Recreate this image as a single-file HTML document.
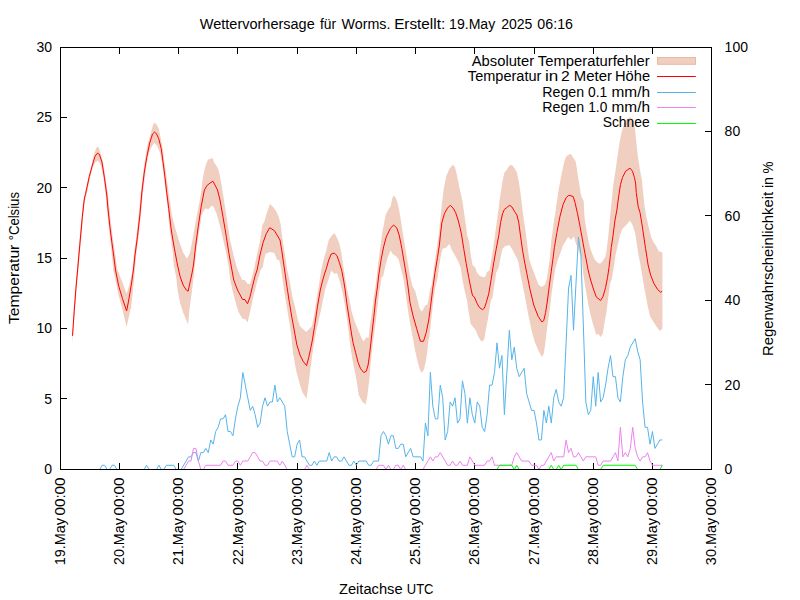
<!DOCTYPE html>
<html><head><meta charset="utf-8"><title>Wettervorhersage Worms</title>
<style>html,body{margin:0;padding:0;background:#fff;overflow:hidden}svg{display:block}text{font-family:"Liberation Sans",sans-serif;font-size:14px;fill:#000}</style></head><body>
<svg width="800" height="600" viewBox="0 0 800 600">
<rect width="800" height="600" fill="#fff"/>
<g stroke="#000" stroke-width="1" fill="none" stroke-linecap="butt">
<path d="M60.5,47.5h6.5"/>
<path d="M60.5,117.5h6.5"/>
<path d="M60.5,187.5h6.5"/>
<path d="M60.5,258.5h6.5"/>
<path d="M60.5,328.5h6.5"/>
<path d="M60.5,398.5h6.5"/>
<path d="M60.5,469.5h6.5"/>
<path d="M711.5,47.5h-6.5"/>
<path d="M711.5,131.5h-6.5"/>
<path d="M711.5,215.5h-6.5"/>
<path d="M711.5,300.5h-6.5"/>
<path d="M711.5,384.5h-6.5"/>
<path d="M711.5,469.5h-6.5"/>
<path d="M60.5,469.5v-6.5"/>
<path d="M60.5,47.5v6.5"/>
<path d="M119.5,469.5v-6.5"/>
<path d="M119.5,47.5v6.5"/>
<path d="M178.5,469.5v-6.5"/>
<path d="M178.5,47.5v6.5"/>
<path d="M237.5,469.5v-6.5"/>
<path d="M237.5,47.5v6.5"/>
<path d="M297.5,469.5v-6.5"/>
<path d="M297.5,47.5v6.5"/>
<path d="M356.5,469.5v-6.5"/>
<path d="M356.5,47.5v6.5"/>
<path d="M415.5,469.5v-6.5"/>
<path d="M415.5,47.5v6.5"/>
<path d="M474.5,469.5v-6.5"/>
<path d="M474.5,47.5v6.5"/>
<path d="M534.5,469.5v-6.5"/>
<path d="M534.5,47.5v6.5"/>
<path d="M593.5,469.5v-6.5"/>
<path d="M593.5,47.5v6.5"/>
<path d="M652.5,469.5v-6.5"/>
<path d="M652.5,47.5v6.5"/>
<path d="M711.5,469.5v-6.5"/>
<path d="M711.5,47.5v6.5"/>
</g>
<clipPath id="c"><rect x="60.5" y="47.5" width="651.0" height="422.0"/></clipPath>
<g clip-path="url(#c)" fill="none" stroke-linejoin="miter" stroke-miterlimit="3.8" stroke-linecap="butt">
<path d="M72.50,333.00 L73.60,311.00 L75.30,288.75 L76.90,270.00 L78.10,255.00 L79.90,235.00 L81.50,217.50 L83.00,202.50 L84.80,195.00 L88.50,176.00 L91.00,167.00 L94.00,154.50 L96.00,148.50 L97.50,146.60 L99.00,148.00 L100.80,154.40 L103.00,162.00 L105.50,177.50 L108.00,195.00 L109.50,210.00 L111.50,227.50 L113.50,242.50 L115.50,256.25 L117.50,270.00 L122.50,282.50 L126.60,293.75 L130.00,282.50 L132.50,270.00 L133.80,255.00 L136.30,236.00 L138.80,214.00 L141.10,190.00 L144.20,165.00 L147.00,147.00 L151.25,131.25 L153.10,124.40 L154.40,122.75 L156.25,124.00 L158.75,128.75 L160.60,137.50 L162.50,147.50 L164.40,161.25 L166.25,175.00 L168.10,188.75 L171.90,215.00 L175.00,227.50 L178.75,240.00 L183.10,252.50 L186.90,258.75 L190.00,252.50 L192.50,240.00 L194.60,227.50 L196.90,215.00 L199.40,202.50 L201.40,190.00 L202.50,180.00 L204.40,170.00 L206.25,163.75 L208.10,159.40 L210.00,159.00 L212.90,158.10 L213.75,161.90 L215.60,164.40 L218.10,168.75 L220.00,176.25 L221.25,183.75 L222.40,190.00 L226.25,215.00 L230.00,239.50 L233.75,256.00 L237.30,269.00 L241.90,279.40 L245.00,280.25 L247.50,283.75 L250.00,284.00 L251.90,277.50 L253.75,270.00 L256.90,255.00 L260.00,241.25 L262.25,225.60 L264.40,221.25 L266.90,212.50 L270.00,204.00 L273.10,206.90 L276.25,211.25 L278.75,216.90 L280.60,223.75 L281.90,235.00 L283.75,247.50 L285.60,258.75 L287.25,270.00 L290.00,282.50 L292.50,297.50 L295.00,306.25 L297.50,318.75 L300.00,326.25 L306.25,331.90 L311.90,326.25 L313.75,317.50 L316.25,301.25 L318.50,287.50 L321.00,271.50 L323.50,260.00 L326.25,250.50 L328.75,240.00 L331.90,235.60 L334.40,232.90 L336.90,237.50 L339.40,243.75 L341.25,252.50 L343.10,265.00 L345.00,276.50 L346.90,288.50 L349.40,300.00 L351.90,312.50 L355.00,322.50 L358.75,331.25 L361.25,337.50 L363.50,341.40 L366.25,337.50 L368.50,338.10 L370.00,325.00 L371.90,312.50 L373.75,297.50 L375.80,284.00 L377.50,269.50 L380.00,248.75 L382.50,231.25 L383.75,225.00 L385.60,215.00 L388.10,210.00 L390.60,206.25 L392.50,197.50 L393.75,195.60 L395.60,197.50 L397.50,202.50 L399.40,211.25 L401.25,222.50 L403.10,235.00 L406.25,253.75 L408.75,268.75 L410.00,275.50 L412.50,286.25 L415.20,291.00 L416.90,297.50 L419.40,307.50 L421.25,311.25 L423.10,310.00 L425.00,305.60 L427.50,304.40 L428.75,297.50 L430.00,290.00 L431.90,284.00 L435.00,260.00 L438.75,235.00 L440.00,222.50 L441.90,203.75 L443.75,188.75 L446.25,176.25 L449.40,168.75 L452.75,164.75 L455.00,166.90 L456.90,175.00 L459.40,187.50 L462.50,201.25 L464.40,215.00 L466.25,227.50 L467.10,235.00 L469.40,242.50 L470.60,253.75 L472.50,265.00 L475.00,266.90 L476.90,272.50 L479.40,275.60 L482.50,276.90 L485.00,276.90 L486.90,271.90 L489.40,270.60 L491.25,260.00 L493.10,248.75 L495.00,235.00 L497.50,216.25 L500.00,197.50 L502.50,181.25 L504.40,172.50 L506.90,169.40 L509.40,165.60 L511.90,165.00 L514.40,168.10 L516.90,172.50 L518.75,181.25 L520.60,193.75 L522.50,210.00 L524.40,223.75 L526.00,235.00 L527.70,248.00 L529.40,260.00 L532.50,268.75 L535.60,276.90 L538.75,285.00 L541.90,286.90 L545.00,284.40 L546.90,278.75 L548.10,270.00 L549.60,260.00 L551.25,241.25 L553.75,222.50 L556.25,206.25 L558.10,192.50 L559.50,185.00 L561.90,172.50 L564.40,161.25 L566.25,156.25 L570.60,153.75 L573.10,157.50 L575.60,161.25 L576.90,168.75 L578.10,177.50 L579.40,185.00 L581.25,196.25 L583.75,201.25 L584.40,216.25 L586.25,228.75 L588.10,238.75 L590.00,247.50 L592.50,254.40 L595.00,260.00 L597.50,262.50 L600.00,263.75 L602.50,261.25 L605.30,257.00 L606.50,251.00 L608.30,236.00 L610.00,217.50 L611.90,198.75 L613.10,186.25 L613.75,182.00 L615.60,170.00 L617.50,156.25 L619.40,143.75 L621.25,133.75 L623.75,125.00 L626.25,120.00 L630.00,116.90 L633.10,120.00 L635.00,128.75 L636.25,141.25 L637.50,153.75 L639.40,166.25 L640.00,170.00 L641.90,180.00 L643.10,192.50 L644.40,205.00 L646.25,216.25 L648.75,227.50 L651.25,237.50 L653.75,242.50 L656.25,246.25 L658.75,251.25 L661.90,252.25 L662.40,253.00 L662.40,328.80 L659.80,331.00 L656.25,326.25 L650.00,316.25 L647.50,305.00 L644.40,288.75 L641.90,273.75 L640.00,262.50 L638.50,255.00 L637.50,248.75 L636.25,240.00 L635.00,232.50 L632.50,225.00 L630.00,220.60 L626.25,225.00 L622.50,228.75 L620.00,235.00 L617.50,246.25 L615.60,255.00 L613.75,267.50 L611.90,278.75 L610.00,283.75 L608.10,298.75 L606.25,313.75 L605.00,320.00 L603.75,327.50 L602.50,334.40 L600.60,336.90 L598.10,333.75 L596.25,335.00 L595.00,330.50 L592.50,322.50 L590.00,312.50 L587.50,300.00 L585.00,285.00 L583.10,272.50 L581.90,260.00 L579.40,252.50 L577.50,247.50 L575.60,242.50 L573.75,236.25 L571.25,240.00 L568.10,236.90 L565.60,241.25 L563.10,245.00 L560.60,252.50 L557.70,260.00 L555.60,267.50 L553.75,278.75 L551.90,291.25 L550.00,307.50 L548.10,321.00 L546.90,330.00 L545.60,341.25 L543.75,353.75 L541.90,356.90 L538.75,351.25 L535.00,342.50 L531.90,332.00 L528.50,316.00 L525.60,300.00 L523.10,287.50 L520.60,275.00 L518.75,263.75 L516.90,258.10 L514.40,253.75 L511.90,248.75 L509.40,245.00 L505.00,246.25 L502.50,248.75 L500.60,257.50 L498.75,267.50 L496.25,272.50 L494.40,285.00 L492.50,297.50 L491.00,300.00 L489.40,310.00 L487.50,321.25 L485.60,331.25 L484.40,338.75 L482.50,341.50 L480.60,340.60 L478.10,336.25 L475.60,330.00 L473.10,326.90 L470.60,323.75 L468.75,312.50 L466.90,300.00 L465.00,292.50 L462.50,280.00 L460.60,267.50 L458.10,261.25 L455.00,255.60 L451.90,250.00 L449.40,244.00 L445.60,248.10 L442.50,248.75 L440.60,257.50 L438.75,268.75 L437.50,278.75 L435.20,287.50 L433.30,301.00 L431.40,318.00 L429.40,337.50 L428.50,340.00 L427.25,352.50 L425.60,362.50 L423.75,370.00 L421.90,372.75 L420.00,370.00 L417.50,361.25 L415.00,350.00 L413.10,339.50 L410.00,323.00 L407.50,306.90 L405.20,291.00 L403.50,279.00 L401.25,270.00 L398.75,260.00 L396.25,256.25 L393.10,254.40 L390.60,250.60 L388.10,256.25 L385.60,265.00 L383.10,276.00 L381.50,277.50 L379.40,291.25 L377.50,306.25 L375.60,322.50 L373.75,337.00 L372.20,349.00 L370.60,363.75 L369.40,378.75 L367.50,395.00 L365.60,404.40 L361.90,401.25 L358.75,395.00 L356.90,382.50 L355.00,372.50 L352.50,360.00 L350.30,346.00 L349.00,335.00 L347.50,322.50 L345.00,306.25 L342.50,292.50 L341.50,288.50 L339.40,280.00 L336.90,273.10 L334.40,273.75 L331.25,270.60 L328.75,278.75 L326.60,285.00 L325.00,290.00 L323.00,300.00 L321.00,310.00 L318.70,320.00 L316.40,330.00 L315.20,337.00 L313.75,345.00 L311.90,357.50 L310.00,372.50 L308.10,387.50 L306.50,398.75 L302.50,392.50 L300.00,385.00 L296.25,371.25 L293.10,353.75 L291.25,335.00 L290.00,326.25 L286.90,307.50 L283.75,288.75 L281.25,270.00 L279.40,260.60 L276.90,259.40 L274.40,253.10 L270.00,251.90 L265.60,253.75 L264.00,260.00 L262.90,267.00 L260.60,270.00 L256.90,282.50 L253.75,295.00 L251.25,306.25 L249.40,315.00 L247.50,322.50 L245.60,319.40 L242.50,318.75 L238.50,312.00 L235.60,302.50 L232.50,290.50 L230.00,278.50 L228.40,265.00 L226.25,253.75 L223.75,242.50 L221.25,231.25 L218.75,221.25 L216.25,212.50 L213.75,206.90 L211.90,205.60 L208.10,209.40 L206.25,208.50 L205.00,208.75 L201.50,215.00 L199.75,227.50 L196.90,246.25 L194.80,265.00 L193.75,276.25 L192.50,286.25 L191.25,296.25 L190.00,305.00 L188.90,315.00 L188.20,324.50 L183.10,312.50 L180.00,302.50 L177.50,290.00 L176.25,277.50 L173.75,265.00 L172.75,252.50 L169.40,227.50 L167.80,208.75 L165.60,190.00 L164.00,177.50 L162.25,165.00 L160.00,152.50 L157.00,146.00 L154.40,142.75 L151.90,146.25 L149.00,152.50 L146.50,165.00 L143.00,192.00 L141.00,213.75 L138.60,236.25 L136.20,255.00 L135.00,270.00 L133.75,282.50 L132.50,295.00 L131.00,307.50 L126.60,327.00 L121.90,307.50 L118.50,295.00 L113.30,270.00 L112.00,256.25 L110.50,242.50 L108.80,227.50 L107.00,210.00 L105.60,195.00 L103.40,177.50 L101.00,166.00 L99.40,162.00 L97.50,161.00 L95.50,162.00 L93.00,167.00 L90.40,176.00 L86.60,195.00 L84.60,202.50 L83.00,217.50 L81.50,235.00 L79.70,255.00 L78.40,270.00 L76.60,288.75 L74.90,311.25 L73.60,327.00 L72.50,344.40Z" fill="#f0cfc0" stroke="none"/>
<path d="M72.50,335.80 L74.20,311.25 L75.90,288.75 L77.60,270.00 L78.90,255.00 L80.70,235.00 L82.25,217.50 L84.30,199.00 L85.60,193.50 L89.40,176.25 L91.90,166.90 L95.00,156.25 L97.50,153.10 L99.40,154.40 L101.90,161.90 L104.40,177.50 L106.80,195.00 L108.10,210.00 L110.00,227.50 L111.90,242.50 L113.75,256.25 L115.50,270.00 L118.75,286.25 L122.50,298.75 L126.60,311.00 L128.75,300.00 L131.25,285.00 L133.40,270.00 L135.00,255.00 L137.50,236.25 L140.00,213.75 L141.90,192.00 L144.20,173.00 L146.70,157.50 L149.70,143.00 L152.50,134.00 L154.50,132.10 L156.50,133.75 L158.75,138.75 L161.25,148.75 L163.10,162.50 L165.00,177.50 L166.40,190.00 L168.75,208.75 L171.25,230.00 L174.40,248.75 L177.50,265.00 L180.00,276.25 L183.10,285.00 L186.25,290.00 L188.10,291.25 L191.90,273.75 L193.50,265.00 L195.60,246.25 L198.10,227.50 L201.25,206.25 L204.40,190.00 L206.90,185.60 L210.00,183.10 L212.90,181.25 L215.00,185.00 L217.50,190.00 L220.00,200.00 L223.10,217.50 L226.25,236.25 L228.75,252.50 L231.00,265.00 L233.75,280.00 L237.50,290.00 L242.50,299.40 L245.00,299.60 L247.50,303.75 L250.00,296.90 L252.50,286.25 L255.00,276.25 L257.10,270.00 L260.00,255.00 L263.10,242.50 L266.25,233.75 L269.75,227.75 L274.40,230.60 L280.00,240.00 L281.90,251.25 L283.10,260.00 L284.60,270.00 L286.90,286.25 L289.40,302.50 L291.90,317.50 L296.90,345.00 L300.00,355.00 L303.10,361.25 L306.60,365.60 L308.75,357.50 L310.60,348.75 L312.20,341.00 L314.40,327.50 L317.50,306.25 L320.30,290.00 L322.50,281.00 L324.20,275.00 L326.25,268.75 L328.75,260.00 L331.25,254.00 L334.40,253.10 L336.90,255.60 L339.40,262.50 L341.90,271.25 L343.75,281.25 L345.00,289.00 L346.90,303.75 L349.40,320.00 L351.70,335.00 L353.30,343.75 L355.60,352.50 L358.10,362.50 L360.60,368.75 L363.75,372.50 L366.25,371.25 L368.10,365.00 L369.75,353.00 L371.40,338.00 L373.75,317.50 L375.60,300.00 L377.30,288.00 L378.75,275.00 L381.25,258.75 L383.75,246.25 L386.25,236.90 L390.30,228.50 L393.60,225.00 L396.90,228.10 L399.40,236.00 L401.90,248.75 L406.90,278.75 L408.30,289.00 L410.00,302.50 L413.10,316.00 L416.70,328.75 L420.40,341.25 L423.50,341.25 L426.25,332.50 L428.75,320.00 L430.60,306.25 L432.50,290.50 L435.00,272.50 L437.50,257.50 L439.40,245.00 L440.40,235.00 L441.90,222.50 L444.40,213.75 L447.50,208.10 L450.25,205.25 L453.10,208.10 L455.60,212.50 L458.10,220.00 L460.00,227.50 L461.60,235.00 L463.75,248.75 L466.25,263.75 L468.75,277.50 L471.25,290.00 L472.50,295.60 L474.40,296.90 L476.90,303.10 L479.40,307.50 L482.50,309.60 L484.40,308.10 L486.25,302.50 L488.75,293.75 L491.25,278.75 L493.75,262.50 L496.25,248.75 L498.75,235.60 L500.60,222.50 L502.50,213.75 L504.40,209.40 L506.90,207.50 L509.60,205.25 L511.90,206.90 L514.40,211.25 L516.90,215.00 L518.75,222.50 L520.40,235.00 L522.50,250.00 L524.60,262.00 L526.90,273.75 L530.00,289.50 L533.75,305.00 L538.10,316.25 L541.90,321.90 L543.75,320.60 L545.60,312.50 L547.50,300.00 L549.40,285.00 L551.25,271.25 L552.80,260.00 L554.40,247.50 L556.90,232.50 L560.00,216.25 L563.10,204.40 L566.25,197.50 L568.75,195.30 L573.10,196.40 L575.00,202.50 L577.50,213.50 L580.00,226.25 L585.00,253.75 L586.25,260.00 L588.10,270.00 L590.60,280.00 L593.75,290.00 L596.25,296.90 L600.60,300.60 L603.10,296.25 L605.60,287.50 L607.50,277.50 L609.00,267.50 L610.20,257.50 L611.25,247.50 L613.10,235.00 L615.00,220.00 L616.90,210.00 L618.60,197.00 L620.50,184.50 L622.50,177.50 L625.60,171.25 L630.00,168.10 L632.50,171.25 L634.40,177.50 L635.60,183.00 L636.25,192.50 L638.10,206.25 L640.00,212.50 L641.90,223.75 L645.60,248.75 L646.60,255.00 L648.10,265.00 L650.60,275.00 L653.75,283.10 L657.50,289.40 L660.60,292.25 L662.20,291.25" stroke="#ff0000" stroke-width="1"/>
<path d="M72.54,469.50 L99.68,469.50 L102.15,465.28 L104.62,465.28 L107.09,469.50 L109.56,469.50 L112.02,465.28 L114.49,465.28 L116.96,469.50 L144.11,469.50 L146.57,465.28 L149.04,469.50 L156.44,469.50 L158.91,465.28 L161.38,469.50 L163.85,469.50 L166.32,465.28 L173.72,465.28 L176.19,469.50 L181.12,469.50 L188.53,456.84 L190.99,456.84 L193.46,452.62 L195.93,452.62 L198.40,461.06 L200.86,452.62 L203.33,452.62 L205.80,448.40 L208.27,452.62 L210.74,439.96 L213.20,444.18 L215.67,431.52 L218.14,427.30 L220.61,418.86 L223.07,418.86 L225.54,414.64 L228.01,431.52 L230.48,431.52 L232.95,435.74 L235.41,418.86 L237.88,406.20 L240.35,397.76 L242.82,372.44 L245.29,385.10 L247.75,397.76 L250.22,410.42 L252.69,406.20 L255.16,414.64 L257.62,427.30 L260.09,423.08 L262.56,406.20 L265.03,397.76 L267.50,406.20 L269.96,401.98 L272.43,401.98 L274.90,385.10 L277.37,401.98 L279.83,397.76 L284.77,406.20 L287.24,431.52 L289.71,444.18 L292.17,456.84 L294.64,456.84 L297.11,444.18 L299.58,439.96 L302.04,456.84 L304.51,456.84 L309.45,465.28 L311.92,465.28 L314.38,461.06 L316.85,465.28 L319.32,461.06 L326.72,461.06 L329.19,452.62 L331.66,461.06 L334.13,456.84 L336.59,456.84 L339.06,461.06 L341.53,461.06 L344.00,456.84 L346.47,461.06 L348.93,465.28 L351.40,465.28 L353.87,461.06 L356.34,465.28 L358.80,461.06 L366.21,461.06 L368.68,465.28 L371.14,465.28 L373.61,461.06 L378.55,461.06 L381.01,435.74 L383.48,431.52 L385.95,435.74 L388.42,444.18 L390.89,435.74 L393.35,435.74 L395.82,448.40 L398.29,448.40 L400.76,444.18 L403.22,444.18 L405.69,456.84 L410.63,448.40 L413.10,456.84 L420.50,456.84 L422.97,461.06 L425.43,423.08 L427.90,435.74 L430.37,372.44 L432.84,406.20 L435.31,418.86 L437.77,418.86 L440.24,385.10 L442.71,397.76 L445.18,439.96 L447.65,431.52 L450.11,401.98 L452.58,406.20 L455.05,397.76 L457.52,423.08 L459.98,418.86 L462.45,380.88 L464.92,393.54 L467.39,423.08 L469.86,397.76 L472.32,414.64 L474.79,423.08 L477.26,401.98 L479.73,406.20 L482.19,427.30 L484.66,431.52 L487.13,414.64 L489.60,385.10 L492.07,385.10 L494.53,372.44 L497.00,342.90 L499.47,368.22 L501.94,355.56 L504.40,414.64 L509.34,330.24 L511.81,359.78 L514.28,347.12 L516.74,368.22 L519.21,376.66 L524.15,368.22 L526.61,393.54 L531.55,410.42 L534.02,410.42 L536.49,423.08 L538.95,439.96 L541.42,439.96 L543.89,410.42 L546.36,423.08 L548.83,406.20 L551.29,423.08 L553.76,397.76 L556.23,389.32 L558.70,401.98 L561.16,406.20 L563.63,397.76 L568.57,288.04 L571.04,275.38 L573.50,330.24 L578.44,237.40 L580.91,254.28 L583.37,326.02 L585.84,401.98 L588.31,414.64 L590.78,410.42 L593.25,376.66 L595.71,406.20 L598.18,372.44 L600.65,401.98 L603.12,397.76 L605.58,385.10 L608.05,368.22 L610.52,355.56 L612.99,376.66 L615.46,376.66 L617.92,397.76 L620.39,401.98 L622.86,376.66 L625.33,359.78 L627.79,355.56 L630.26,347.12 L635.20,338.68 L637.67,351.34 L640.13,359.78 L642.60,401.98 L645.07,427.30 L647.54,427.30 L650.00,444.18 L652.47,431.52 L654.94,448.40 L659.88,439.96 L662.34,439.96" stroke="#56b4e9" stroke-width="1"/>
<path d="M72.54,469.50 L183.59,469.50 L188.53,461.06 L190.99,461.06 L193.46,448.40 L195.93,448.40 L198.40,461.06 L200.86,469.50 L203.33,469.50 L205.80,465.28 L220.61,465.28 L223.07,461.06 L225.54,461.06 L228.01,465.28 L232.95,465.28 L235.41,461.06 L237.88,461.06 L240.35,465.28 L242.82,461.06 L247.75,461.06 L252.69,452.62 L255.16,452.62 L257.62,456.84 L260.09,461.06 L262.56,461.06 L265.03,465.28 L267.50,465.28 L269.96,461.06 L277.37,461.06 L279.83,465.28 L282.30,461.06 L287.24,469.50 L304.51,469.50 L306.98,465.28 L309.45,469.50 L376.08,469.50 L378.55,465.28 L383.48,465.28 L385.95,469.50 L388.42,465.28 L390.89,469.50 L393.35,469.50 L395.82,465.28 L398.29,465.28 L400.76,469.50 L403.22,465.28 L405.69,469.50 L422.97,469.50 L425.43,465.28 L430.37,456.84 L432.84,461.06 L435.31,456.84 L437.77,456.84 L440.24,452.62 L447.65,465.28 L450.11,465.28 L452.58,461.06 L455.05,465.28 L457.52,465.28 L459.98,461.06 L462.45,465.28 L467.39,465.28 L469.86,456.84 L472.32,461.06 L474.79,465.28 L484.66,465.28 L487.13,461.06 L489.60,461.06 L492.07,456.84 L494.53,465.28 L511.81,465.28 L514.28,456.84 L516.74,452.62 L521.68,461.06 L529.08,461.06 L531.55,465.28 L536.49,465.28 L538.95,469.50 L541.42,465.28 L543.89,465.28 L548.83,456.84 L551.29,452.62 L553.76,461.06 L556.23,456.84 L563.63,456.84 L566.10,439.96 L568.57,452.62 L571.04,448.40 L573.50,456.84 L575.97,456.84 L578.44,452.62 L580.91,456.84 L583.37,461.06 L585.84,456.84 L595.71,456.84 L598.18,465.28 L600.65,465.28 L603.12,461.06 L610.52,461.06 L615.46,452.62 L617.92,461.06 L620.39,427.30 L622.86,456.84 L625.33,452.62 L627.79,456.84 L630.26,448.40 L632.73,427.30 L635.20,448.40 L637.67,456.84 L640.13,461.06 L642.60,456.84 L645.07,456.84 L647.54,452.62 L650.00,461.06 L652.47,465.28 L662.34,465.28" stroke="#ee82ee" stroke-width="1"/>
<path d="M72.54,469.50 L497.00,469.50 L499.47,465.28 L511.81,465.28 L514.28,469.50 L516.74,465.28 L519.21,469.50 L548.83,469.50 L551.29,465.28 L553.76,469.50 L556.23,469.50 L558.70,465.28 L561.16,469.50 L563.63,465.28 L575.97,465.28 L578.44,469.50 L600.65,469.50 L603.12,465.28 L635.20,465.28 L637.67,469.50 L659.88,469.50 L662.34,465.28" stroke="#00ff00" stroke-width="1"/>
</g>
<rect x="60.5" y="47.5" width="651.0" height="422.0" fill="none" stroke="#000" stroke-width="1"/>
<text x="52" y="52.00" text-anchor="end">30</text>
<text x="52" y="122.33" text-anchor="end">25</text>
<text x="52" y="192.67" text-anchor="end">20</text>
<text x="52" y="263.00" text-anchor="end">15</text>
<text x="52" y="333.33" text-anchor="end">10</text>
<text x="52" y="403.67" text-anchor="end">5</text>
<text x="52" y="474.00" text-anchor="end">0</text>
<text x="724.6" y="52.00">100</text>
<text x="724.6" y="136.40">80</text>
<text x="724.6" y="220.80">60</text>
<text x="724.6" y="305.20">40</text>
<text x="724.6" y="389.60">20</text>
<text x="724.6" y="474.00">0</text>
<text x="199.82" y="28.60" textLength="114.87" lengthAdjust="spacingAndGlyphs">Wettervorhersage</text>
<text x="319.91" y="28.60" textLength="16.07" lengthAdjust="spacingAndGlyphs">für</text>
<text x="341.58" y="28.60" textLength="48.85" lengthAdjust="spacingAndGlyphs">Worms.</text>
<text x="394.16" y="28.60" textLength="51.03" lengthAdjust="spacingAndGlyphs">Erstellt:</text>
<text x="449.06" y="28.60" textLength="46.20" lengthAdjust="spacingAndGlyphs">19.May</text>
<text x="501.18" y="28.60" textLength="31.22" lengthAdjust="spacingAndGlyphs">2025</text>
<text x="537.38" y="28.60" textLength="35.60" lengthAdjust="spacingAndGlyphs">06:16</text>
<text x="471.74" y="65.90" textLength="62.38" lengthAdjust="spacingAndGlyphs">Absoluter</text>
<text x="537.89" y="65.90" textLength="111.80" lengthAdjust="spacingAndGlyphs">Temperaturfehler</text>
<text x="467.89" y="81.20" textLength="73.53" lengthAdjust="spacingAndGlyphs">Temperatur</text>
<text x="545.07" y="81.20" textLength="13.30" lengthAdjust="spacingAndGlyphs">in</text>
<text x="561.14" y="81.20" textLength="8.73" lengthAdjust="spacingAndGlyphs">2</text>
<text x="573.81" y="81.20" textLength="38.10" lengthAdjust="spacingAndGlyphs">Meter</text>
<text x="614.97" y="81.20" textLength="35.10" lengthAdjust="spacingAndGlyphs">Höhe</text>
<text x="542.37" y="96.60" textLength="41.78" lengthAdjust="spacingAndGlyphs">Regen</text>
<text x="587.96" y="96.60" textLength="19.24" lengthAdjust="spacingAndGlyphs">0.1</text>
<text x="611.51" y="96.60" textLength="38.52" lengthAdjust="spacingAndGlyphs">mm/h</text>
<text x="542.37" y="112.00" textLength="41.78" lengthAdjust="spacingAndGlyphs">Regen</text>
<text x="588.22" y="112.00" textLength="19.02" lengthAdjust="spacingAndGlyphs">1.0</text>
<text x="611.51" y="112.00" textLength="38.52" lengthAdjust="spacingAndGlyphs">mm/h</text>
<text x="602.68" y="127.40" textLength="46.91" lengthAdjust="spacingAndGlyphs">Schnee</text>
<text x="338.91" y="593.50" textLength="63.73" lengthAdjust="spacingAndGlyphs">Zeitachse</text>
<text x="406.80" y="593.50" textLength="26.70" lengthAdjust="spacingAndGlyphs">UTC</text>
<text transform="translate(19.40,324.10) rotate(-90)" textLength="79.45" lengthAdjust="spacingAndGlyphs">Temperatur</text>
<text transform="translate(19.40,240.35) rotate(-90)" textLength="48.31" lengthAdjust="spacingAndGlyphs">°Celsius</text>
<text transform="translate(773.20,355.93) rotate(-90)" textLength="164.16" lengthAdjust="spacingAndGlyphs">Regenwahrscheinlichkeit</text>
<text transform="translate(773.20,188.07) rotate(-90)" textLength="11.10" lengthAdjust="spacingAndGlyphs">in</text>
<text transform="translate(773.20,173.60) rotate(-90)" textLength="12.02" lengthAdjust="spacingAndGlyphs">%</text>
<text transform="translate(64.90,565.28) rotate(-90)" textLength="47.39" lengthAdjust="spacingAndGlyphs">19.May</text>
<text transform="translate(64.90,515.62) rotate(-90)" textLength="38.25" lengthAdjust="spacingAndGlyphs">00:00</text>
<text transform="translate(124.13,565.07) rotate(-90)" textLength="47.04" lengthAdjust="spacingAndGlyphs">20.May</text>
<text transform="translate(124.13,515.62) rotate(-90)" textLength="38.25" lengthAdjust="spacingAndGlyphs">00:00</text>
<text transform="translate(183.35,565.07) rotate(-90)" textLength="47.04" lengthAdjust="spacingAndGlyphs">21.May</text>
<text transform="translate(183.35,515.62) rotate(-90)" textLength="38.25" lengthAdjust="spacingAndGlyphs">00:00</text>
<text transform="translate(242.58,565.07) rotate(-90)" textLength="47.04" lengthAdjust="spacingAndGlyphs">22.May</text>
<text transform="translate(242.58,515.62) rotate(-90)" textLength="38.25" lengthAdjust="spacingAndGlyphs">00:00</text>
<text transform="translate(301.81,565.07) rotate(-90)" textLength="47.04" lengthAdjust="spacingAndGlyphs">23.May</text>
<text transform="translate(301.81,515.62) rotate(-90)" textLength="38.25" lengthAdjust="spacingAndGlyphs">00:00</text>
<text transform="translate(361.04,565.07) rotate(-90)" textLength="47.04" lengthAdjust="spacingAndGlyphs">24.May</text>
<text transform="translate(361.04,515.62) rotate(-90)" textLength="38.25" lengthAdjust="spacingAndGlyphs">00:00</text>
<text transform="translate(420.26,565.07) rotate(-90)" textLength="47.04" lengthAdjust="spacingAndGlyphs">25.May</text>
<text transform="translate(420.26,515.62) rotate(-90)" textLength="38.25" lengthAdjust="spacingAndGlyphs">00:00</text>
<text transform="translate(479.49,565.07) rotate(-90)" textLength="47.04" lengthAdjust="spacingAndGlyphs">26.May</text>
<text transform="translate(479.49,515.62) rotate(-90)" textLength="38.25" lengthAdjust="spacingAndGlyphs">00:00</text>
<text transform="translate(538.72,565.07) rotate(-90)" textLength="47.04" lengthAdjust="spacingAndGlyphs">27.May</text>
<text transform="translate(538.72,515.62) rotate(-90)" textLength="38.25" lengthAdjust="spacingAndGlyphs">00:00</text>
<text transform="translate(597.95,565.07) rotate(-90)" textLength="47.04" lengthAdjust="spacingAndGlyphs">28.May</text>
<text transform="translate(597.95,515.62) rotate(-90)" textLength="38.25" lengthAdjust="spacingAndGlyphs">00:00</text>
<text transform="translate(657.17,565.07) rotate(-90)" textLength="47.04" lengthAdjust="spacingAndGlyphs">29.May</text>
<text transform="translate(657.17,515.62) rotate(-90)" textLength="38.25" lengthAdjust="spacingAndGlyphs">00:00</text>
<text transform="translate(716.40,565.13) rotate(-90)" textLength="47.32" lengthAdjust="spacingAndGlyphs">30.May</text>
<text transform="translate(716.40,515.62) rotate(-90)" textLength="38.25" lengthAdjust="spacingAndGlyphs">00:00</text>
<rect x="657.5" y="57.5" width="38" height="6.8" fill="#f0cfc0" stroke="#e8baa3" stroke-width="1"/>
<path d="M657,76.5H695.8" stroke="#ff0000" stroke-width="1" fill="none"/>
<path d="M657,92.5H695.8" stroke="#56b4e9" stroke-width="1" fill="none"/>
<path d="M657,107.5H695.8" stroke="#ee82ee" stroke-width="1" fill="none"/>
<path d="M657,123.5H695.8" stroke="#00ff00" stroke-width="1" fill="none"/>
</svg></body></html>
